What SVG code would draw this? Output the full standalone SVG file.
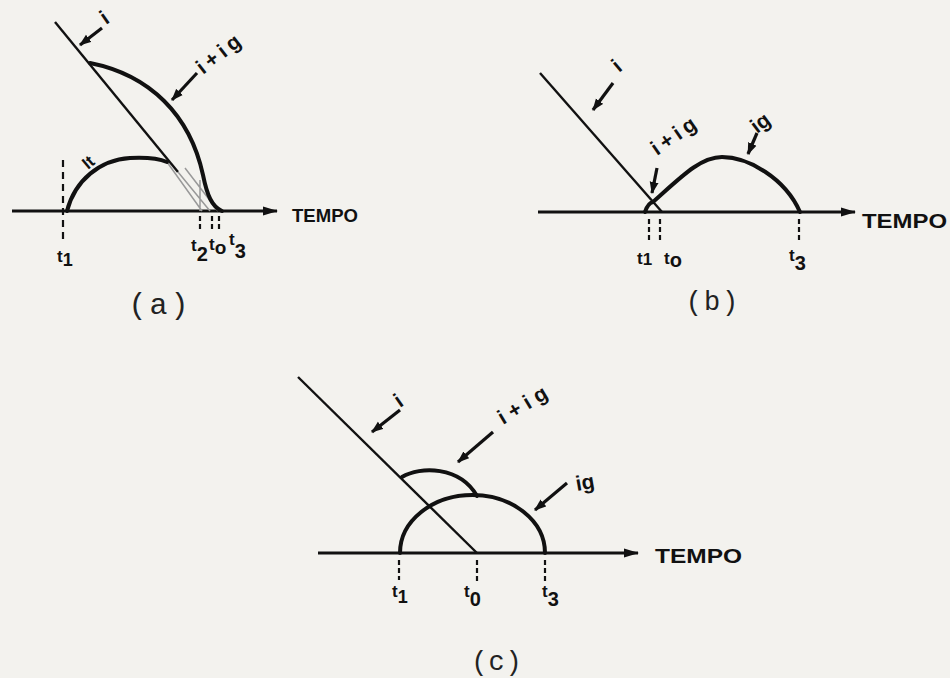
<svg xmlns="http://www.w3.org/2000/svg" width="950" height="678" viewBox="0 0 950 678">
<defs>
<marker id="axh" markerWidth="16" markerHeight="10" refX="14" refY="5" orient="auto" markerUnits="userSpaceOnUse">
<path d="M0,0.5 L15,5 L0,9.5 Z" fill="#111"/>
</marker>
<marker id="lh" markerWidth="12" markerHeight="10" refX="11" refY="5" orient="auto" markerUnits="userSpaceOnUse">
<path d="M0,0.5 L12,5 L0,9.5 Z" fill="#111"/>
</marker>
</defs>
<style>
.ax{stroke:#111;stroke-width:3;fill:none}
.ln{stroke:#111;stroke-width:2.4;fill:none}
.cv{stroke:#111;stroke-width:4;fill:none;stroke-linecap:round}
.ld{stroke:#111;stroke-width:3.2;fill:none}
.ds{stroke:#111;stroke-width:2.2;stroke-dasharray:7,5;fill:none}
.ds2{stroke:#111;stroke-width:2.2;stroke-dasharray:5,3;fill:none}
.gr{stroke:#999;stroke-width:1.5;fill:none}
.tm{font-family:"Liberation Sans",Arial,sans-serif;font-weight:bold;fill:#111}
.lb{font-family:"Liberation Sans",Arial,sans-serif;font-weight:bold;fill:#111;font-size:21px}
.tk{font-family:"Liberation Sans",Arial,sans-serif;font-weight:bold;fill:#111;font-size:17px}
.cap{font-family:"Liberation Mono","DejaVu Sans Mono",monospace;fill:#222}
</style>
<rect width="950" height="678" fill="#f3f2ee"/>

<g id="connectors">
<!-- panel a -->
<line class="ax" x1="12" y1="211" x2="277" y2="211" marker-end="url(#axh)"/>
<line class="ln" x1="55" y1="22" x2="178" y2="172"/>
<path class="gr" d="M178,172 L210,211 M167,162 L202,211 M185,168 L218,211 M200,180 L200,211"/>
<path class="cv" d="M90,63 C150,75 190,115 203,175 C207,195 212,207 222,211"/>
<path class="cv" d="M67,211 C75,180 100,160 130,158 C150,157 160,159 167,162"/>
<line class="ds" x1="63" y1="160" x2="63" y2="242"/>
<line class="ds2" x1="200" y1="216" x2="200" y2="232"/>
<line class="ds2" x1="212" y1="216" x2="212" y2="230"/>
<line class="ds2" x1="219" y1="216" x2="219" y2="230"/>
<line class="ld" x1="102" y1="28" x2="80" y2="45" marker-end="url(#lh)"/>
<line class="ld" x1="197" y1="73" x2="172" y2="100" marker-end="url(#lh)"/>
<!-- panel b -->
<line class="ax" x1="538" y1="212" x2="855" y2="212" marker-end="url(#axh)"/>
<line class="ln" x1="540" y1="73" x2="662" y2="212"/>
<path class="cv" d="M645,212 Q648,203 653,202"/>
<path class="cv" d="M653,202 C680,178 700,157 722,157 C748,157 785,178 800,212"/>
<line class="ds2" x1="649" y1="219" x2="649" y2="242"/>
<line class="ds2" x1="660" y1="219" x2="660" y2="242"/>
<line class="ds2" x1="799" y1="219" x2="799" y2="242"/>
<line class="ld" x1="613" y1="83" x2="593" y2="110" marker-end="url(#lh)"/>
<line class="ld" x1="657" y1="168" x2="652" y2="193" marker-end="url(#lh)"/>
<line class="ld" x1="757" y1="133" x2="748" y2="154" marker-end="url(#lh)"/>
<!-- panel c -->
<line class="ax" x1="318" y1="553" x2="638" y2="553" marker-end="url(#axh)"/>
<line class="ln" x1="298" y1="377" x2="477" y2="553"/>
<path class="cv" d="M400,553 A72.5,58 0 0 1 545,553"/>
<path class="cv" d="M402,477 C420,466 460,466 477,496"/>
<line class="ds2" x1="399" y1="560" x2="399" y2="580"/>
<line class="ds2" x1="477" y1="560" x2="477" y2="582"/>
<line class="ds2" x1="545" y1="560" x2="545" y2="584"/>
<line class="ld" x1="400" y1="410" x2="372" y2="432" marker-end="url(#lh)"/>
<line class="ld" x1="493" y1="432" x2="458" y2="462" marker-end="url(#lh)"/>
<line class="ld" x1="567" y1="483" x2="535" y2="510" marker-end="url(#lh)"/>
</g>

<g id="panel-a">
<text class="tm" x="292" y="222" font-size="19" textLength="66" lengthAdjust="spacingAndGlyphs">TEMPO</text>
<text class="lb" transform="translate(106,25) rotate(-35)">i</text>
<text class="lb" transform="translate(203,75) rotate(-38)" textLength="50">i+ig</text>
<text class="tk" font-size="15" transform="translate(88,170) rotate(-40)">It</text>
<text class="tk" x="57" y="262">t<tspan font-size="18" dy="4">1</tspan></text>
<text class="tk" x="191" y="251">t<tspan font-size="20" dy="10">2</tspan></text>
<text class="tk" x="209" y="250">t<tspan font-size="19" dy="4">o</tspan></text>
<text class="tk" x="229" y="245">t<tspan font-size="20" dy="13">3</tspan></text>
<text class="cap" x="160" y="314" font-size="30" text-anchor="middle" letter-spacing="3">(a)</text>
</g>

<g id="panel-b">
<text class="tm" x="862" y="228" font-size="21" textLength="85" lengthAdjust="spacingAndGlyphs">TEMPO</text>
<text class="lb" transform="translate(619,73) rotate(-40)">i</text>
<text class="lb" transform="translate(657,156) rotate(-35)" textLength="50">i+ig</text>
<text class="lb" transform="translate(757,134) rotate(-37)">ig</text>
<text class="tk" x="637" y="264">t<tspan font-size="17" dy="1">1</tspan></text>
<text class="tk" x="664" y="264">t<tspan font-size="20" dy="3">o</tspan></text>
<text class="tk" x="789" y="261">t<tspan font-size="20" dy="9">3</tspan></text>
<text class="cap" x="713" y="310" font-size="27" text-anchor="middle" letter-spacing="2">(b)</text>
</g>

<g id="panel-c">
<text class="tm" x="655" y="563" font-size="21" textLength="87" lengthAdjust="spacingAndGlyphs">TEMPO</text>
<text class="lb" transform="translate(400,408) rotate(-35)">i</text>
<text class="lb" transform="translate(503,425) rotate(-31)" textLength="54">i+ig</text>
<text class="lb" transform="translate(577,491) rotate(-10)">ig</text>
<text class="tk" x="392" y="597">t<tspan font-size="18" dy="6">1</tspan></text>
<text class="tk" x="464" y="597">t<tspan font-size="20" dy="9">0</tspan></text>
<text class="tk" x="542" y="597">t<tspan font-size="20" dy="9">3</tspan></text>
<text class="cap" x="497" y="670" font-size="27" text-anchor="middle" letter-spacing="1">(c)</text>
</g>
</svg>
